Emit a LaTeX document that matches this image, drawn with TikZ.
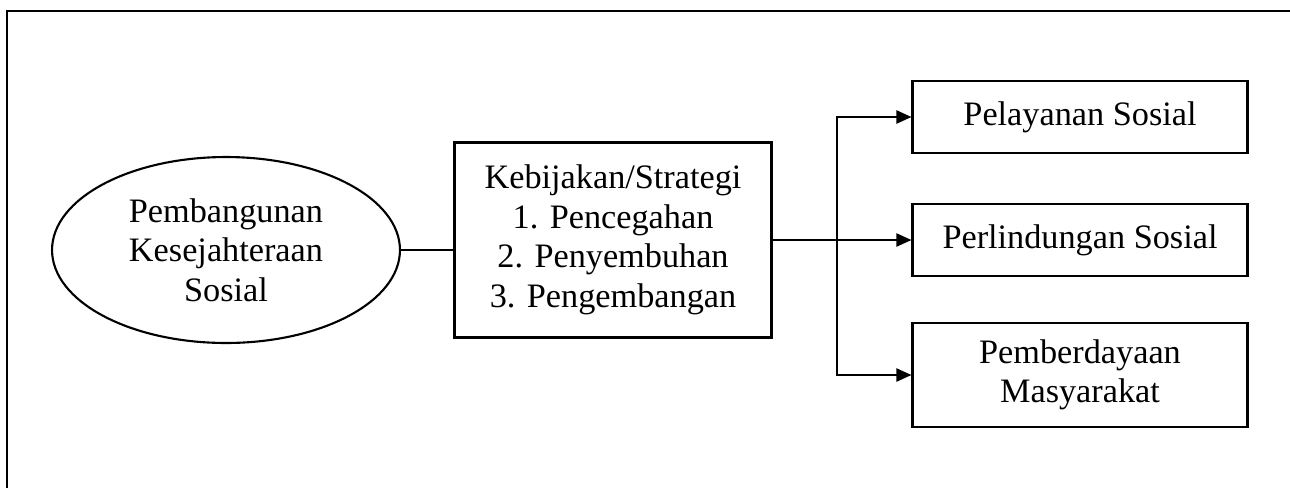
\documentclass[tikz,border=0pt]{standalone}
\usepackage{fontspec}
\setmainfont{Liberation Serif}
\usetikzlibrary{shapes.geometric}
\usetikzlibrary{arrows.meta}

\begin{document}
\begin{tikzpicture}[x=0.02cm, y=-0.02cm, line width=1.2pt,
        font=\fontsize{19.5}{22.5}\selectfont,
        kotak/.style={draw, rectangle, align=center, inner sep=0pt, minimum width=6.7cm},
        panah/.style={-{Triangle[length=0.3cm,width=0.26cm]}}]
            % frame
            \useasboundingbox (0,0) rectangle (1290,488);
            \draw (7,488) -- (7,11) -- (1290,11);

            % left and middle
            \node[draw, ellipse, align=center, inner sep=0pt, minimum width=6.96cm, minimum height=3.72cm] (pembangunan) at (226,250) {Pembangunan\\Kesejahteraan\\Sosial};
            \node[kotak, minimum width=6.34cm, minimum height=3.9cm] (kebijakan) at (613,240) {Kebijakan/Strategi\\1. Pencegahan\\2. Penyembuhan\\3. Pengembangan};

            % right column
            \node[kotak, minimum height=1.44cm] (pelayanan) at (1080,117) {Pelayanan Sosial};
            \node[kotak, minimum height=1.44cm] (perlindungan) at (1080,240) {Perlindungan Sosial};
            \node[kotak, minimum height=2.08cm] (pemberdayaan) at (1080,375) {Pemberdayaan\\Masyarakat};
            \coordinate (cabang) at (837,240);

            \draw (pembangunan.east) -- (pembangunan.east -| kebijakan.west);
            \draw (kebijakan.east) -- (cabang);
            \draw[panah] (cabang) |- (pelayanan.west);
            \draw[panah] (cabang) -- (perlindungan.west);
            \draw[panah] (cabang) |- (pemberdayaan.west);
        \end{tikzpicture}
\end{document}
